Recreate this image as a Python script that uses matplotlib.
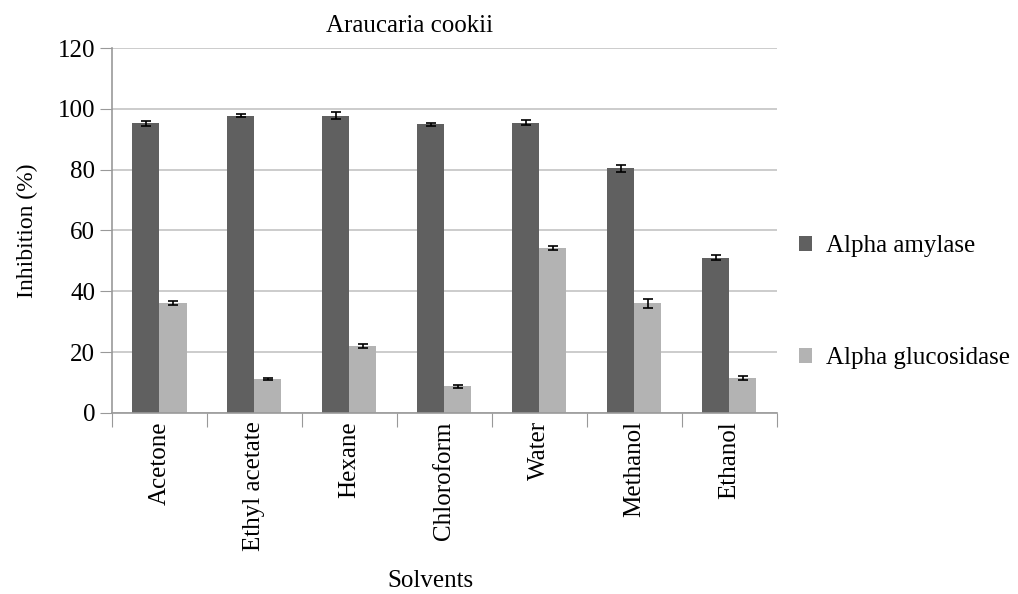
import matplotlib.pyplot as plt
import numpy as np

plt.rcParams['font.family'] = ['Liberation Serif', 'DejaVu Serif']

solvents = ["Acetone", "Ethyl acetate", "Hexane", "Chloroform", "Water", "Methanol", "Ethanol"]
amylase = [95.2, 97.8, 97.8, 94.9, 95.5, 80.5, 51.0]
amylase_err = [0.8, 0.6, 1.1, 0.6, 0.8, 1.2, 0.8]
glucosidase = [36.2, 11.0, 22.0, 8.7, 54.2, 36.0, 11.5]
glucosidase_err = [0.6, 0.3, 0.6, 0.5, 0.7, 1.6, 0.6]

fig = plt.figure(figsize=(10.18, 5.94), dpi=100)
ax = fig.add_axes([0.110, 0.305, 0.653, 0.614])

x = np.arange(len(solvents))
w = 0.285
err_kw = dict(ecolor='black', capsize=3.5, elinewidth=1.2, capthick=1.2)
ax.bar(x - w / 2, amylase, w, yerr=amylase_err, color='#606060',
       label='Alpha amylase', error_kw=err_kw, zorder=2)
ax.bar(x + w / 2, glucosidase, w, yerr=glucosidase_err, color='#b3b3b3',
       label='Alpha glucosidase', error_kw=err_kw, zorder=2)

ax.set_xlim(-0.5, len(solvents) - 0.5)
ax.set_ylim(0, 120)
ax.set_yticks(np.arange(0, 121, 20))
ax.yaxis.grid(True, color='#c4c4c4', linewidth=1.2, zorder=0)
ax.set_axisbelow(True)

# category dividers as ticks below the axis
ax.set_xticks(np.arange(-0.5, len(solvents)), minor=False)
ax.set_xticklabels([])
ax.set_xticks(x, minor=True)
ax.set_xticklabels(solvents, minor=True, rotation=90, fontsize=18)
ax.tick_params(axis='x', which='minor', length=0, pad=6)
ax.tick_params(axis='x', which='major', length=10, color='#999999')
ax.tick_params(axis='y', length=9, color='#999999', labelsize=18, pad=3)

for s in ['top', 'right']:
    ax.spines[s].set_visible(False)
ax.spines['left'].set_color('#999999')
ax.spines['bottom'].set_color('#999999')
ax.spines['left'].set_linewidth(1.2)
ax.spines['bottom'].set_linewidth(1.2)

ax.set_ylabel('Inhibition (%)', fontsize=17, labelpad=14)
fig.text(430 / 1018, 1 - 581 / 594, 'Solvents', ha='center', va='center', fontsize=18)
fig.text(410 / 1018, 1 - 26 / 594, 'Araucaria cookii', ha='center', va='center', fontsize=18)

ax.legend(loc='center left', bbox_to_anchor=(1.033, 0.303), frameon=False,
          fontsize=18, handlelength=0.55, handleheight=0.55, labelspacing=3.6,
          handletextpad=0.55, borderpad=0, borderaxespad=0)

fig.savefig('out.png', dpi=100)
